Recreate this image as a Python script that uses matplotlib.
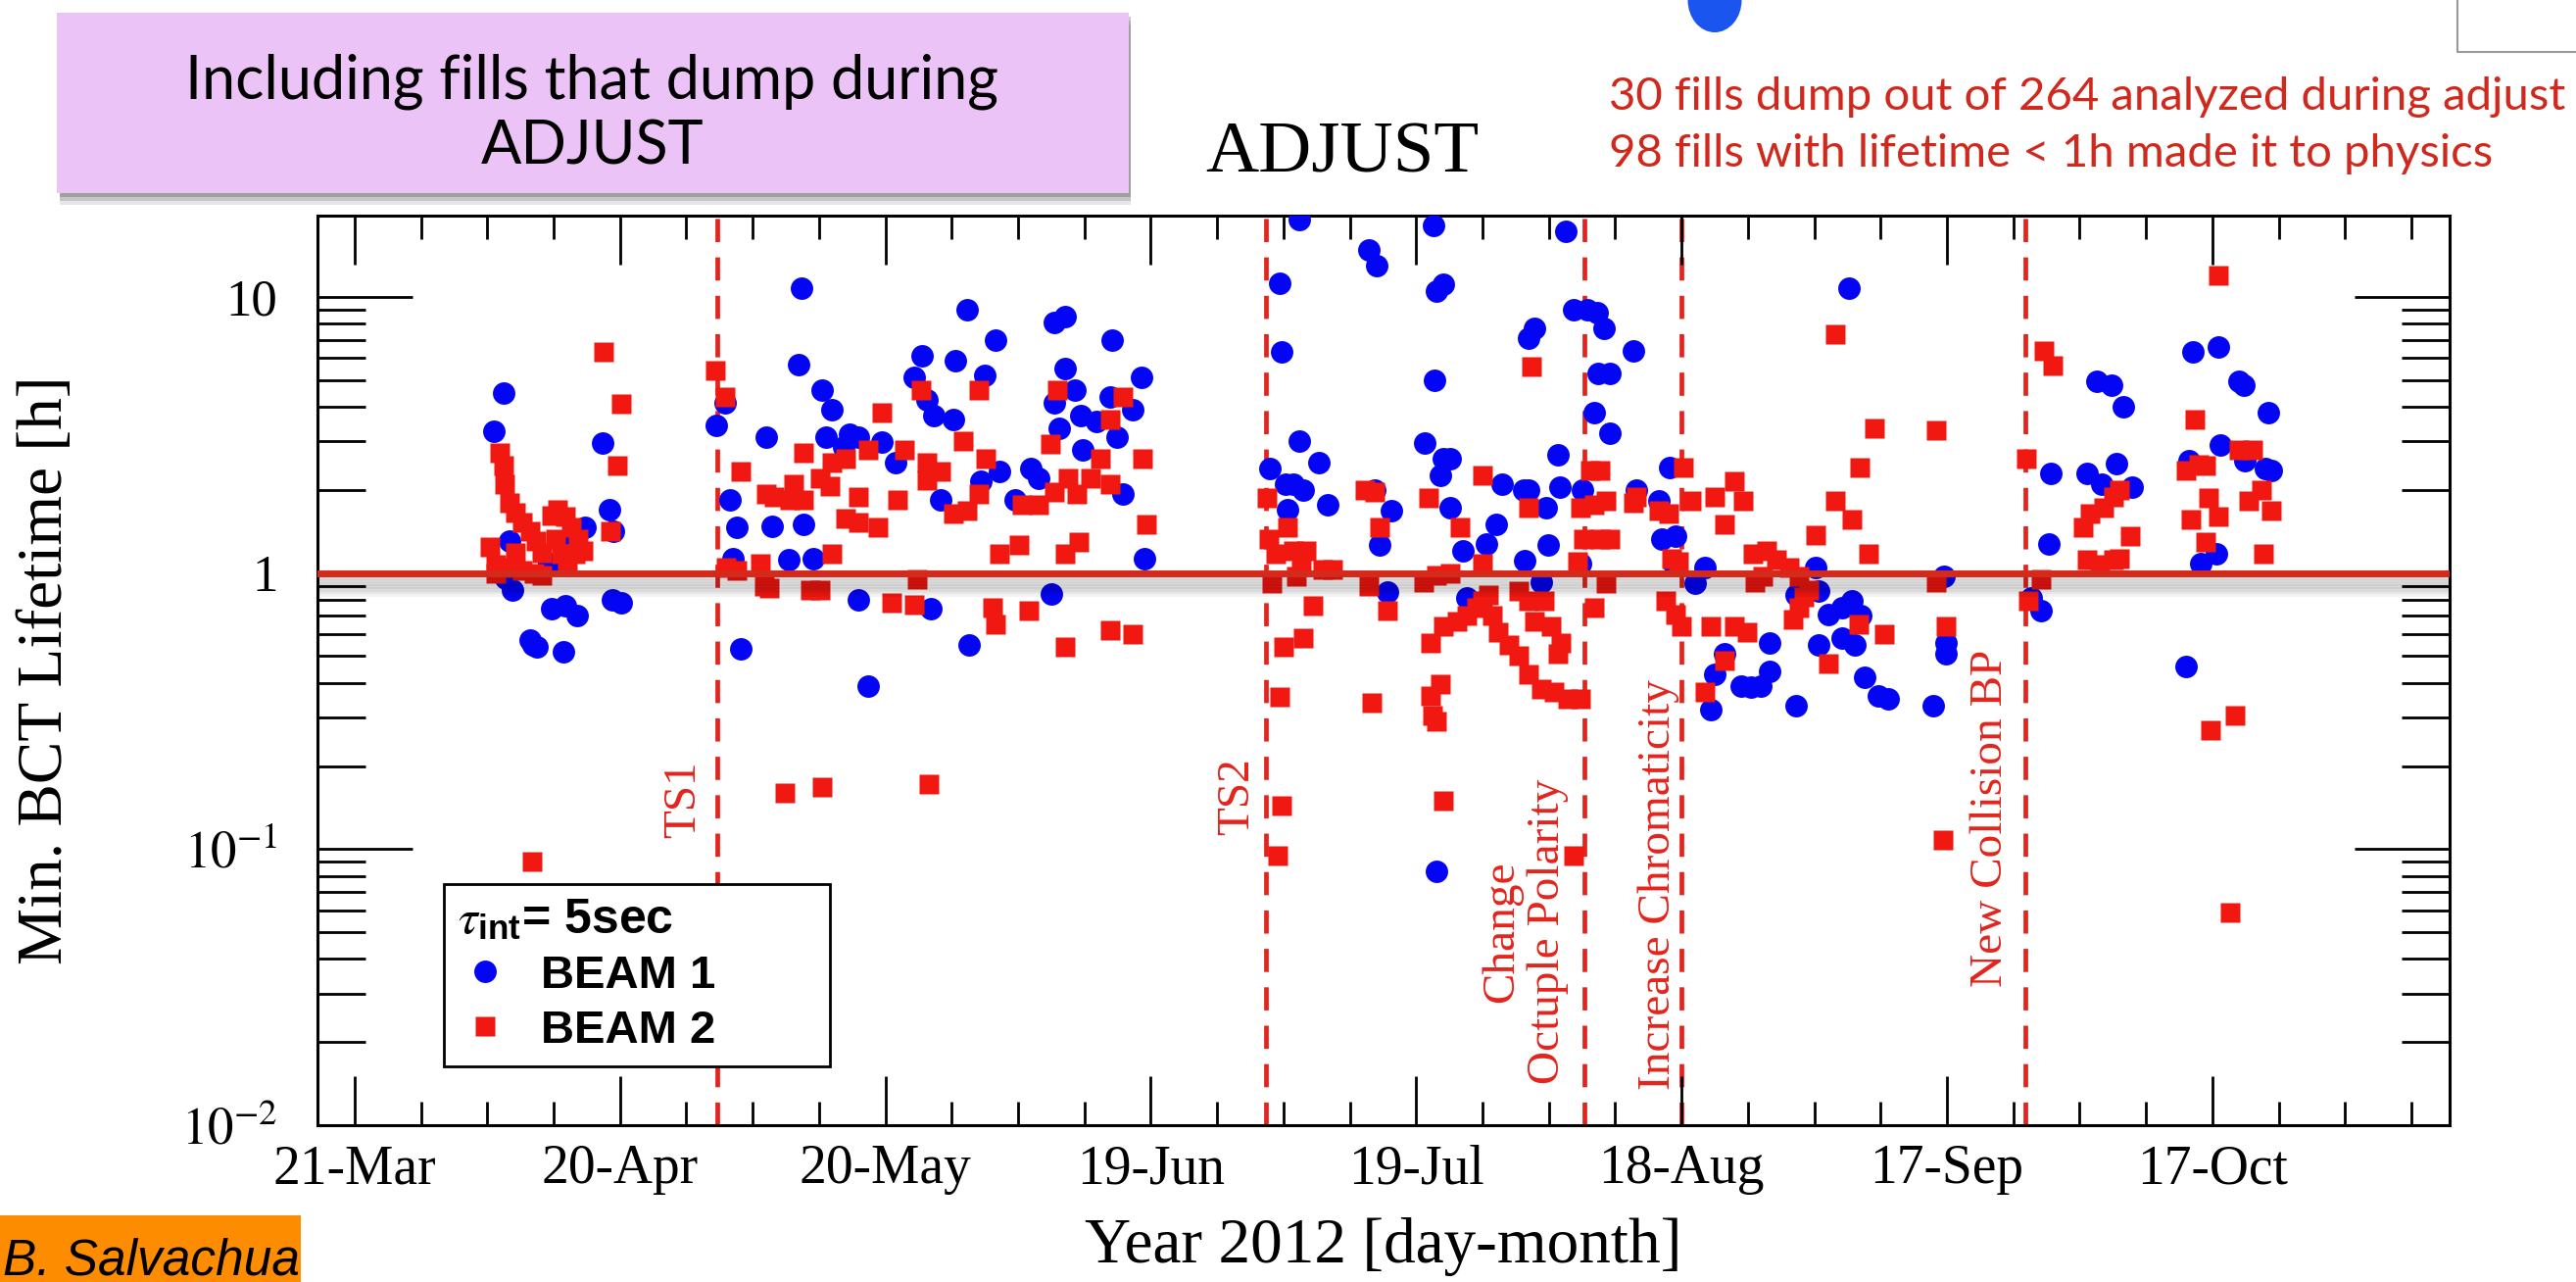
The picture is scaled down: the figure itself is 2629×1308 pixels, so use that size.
import numpy as np
import matplotlib
matplotlib.use("Agg")
import matplotlib.pyplot as plt
import matplotlib.patheffects as pe
import matplotlib.transforms as mtransforms
from matplotlib.patches import Rectangle, Ellipse
from matplotlib.lines import Line2D
from matplotlib.ticker import FixedLocator, FixedFormatter, LogLocator, NullFormatter

plt.rcParams['font.family'] = 'Liberation Serif'
plt.rcParams['mathtext.fontset'] = 'stix'

# day of year 2012 (1 = 1 Jan) and minimum BCT lifetime [h]
beam1_day = [97.8, 96.7, 98.5, 98.1, 98.9, 100.9, 101.6, 101.2, 103.3, 104.8, 106.2, 104.6, 102.9, 105.1,
             107.0, 109.0, 109.8, 110.3, 110.1, 111.2, 121.9, 122.9, 123.4, 124.2, 123.8, 124.7, 127.5, 128.2,
             131.5, 131.2, 133.9, 135.0, 134.3, 136.9, 138.0, 136.3, 140.6, 142.2, 144.3, 145.2, 145.7, 146.5,
             148.7, 148.9, 150.2, 152.2, 153.5, 153.9, 151.8, 147.2, 131.7, 130.1, 132.8, 138.0, 146.1, 150.5,
             139.1, 157.4, 158.3, 155.7, 160.1, 161.3, 161.3, 162.4, 160.1, 160.7, 163.1, 164.9, 163.3, 166.6,
             166.4, 167.2, 169.0, 169.9, 167.9, 170.3, 159.8,
             187.8, 185.6, 185.8, 195.6, 196.5, 203.0, 203.3, 204.1, 203.1, 217.9, 187.8, 190.0, 184.5, 186.2,
             187.1, 188.2, 186.5, 191.0, 196.3, 198.2, 196.9, 197.8, 202.0, 204.1, 204.8, 203.7, 204.8, 206.3,
             208.9, 210.0, 210.7, 206.7, 213.7, 214.4, 217.0, 213.1, 213.7, 215.7, 217.3, 215.9, 213.3, 215.1,
             218.8, 220.3, 221.4, 222.2, 225.5, 221.6, 222.9, 221.1, 222.9, 219.6, 225.9, 203.3, 219.8,
             249.9, 229.7, 228.4, 228.8, 230.3, 230.1, 232.5, 233.6, 234.7, 235.8, 234.3, 237.7, 238.8, 239.9,
             241.0, 241.0, 243.9, 243.9, 246.5, 246.5, 247.6, 249.1, 250.2, 251.3, 249.1, 250.6, 251.7, 253.2,
             254.3, 246.2, 259.4, 260.7, 260.9, 260.9, 270.5, 271.6, 272.7, 272.5,
             277.9, 279.6, 280.9, 280.2, 276.8, 278.5, 281.9, 288.8, 291.7, 294.0, 294.6, 297.3, 291.9, 288.4,
             294.7, 297.0, 297.7, 291.4, 289.7, 288.0]
beam1_life = [4.5, 3.27, 1.31, 0.96, 0.865, 0.57, 0.54, 0.55, 0.74, 0.76, 0.70, 0.52, 1.08, 1.26,
              1.46, 2.95, 1.70, 1.42, 0.80, 0.78, 3.44, 4.13, 1.84, 1.46, 1.13, 0.53, 3.1, 1.48,
              10.8, 5.7, 4.6, 3.9, 3.1, 3.18, 3.1, 2.86, 2.99, 2.52, 5.1, 6.1, 4.24, 3.72,
              3.6, 5.9, 9.0, 5.2, 6.95, 2.33, 2.15, 1.84, 1.5, 1.12, 1.13, 0.80, 0.74, 0.55,
              0.39, 2.39, 2.21, 1.84, 8.1, 8.5, 5.5, 4.6, 4.13, 3.35, 3.72, 3.53, 2.79, 6.95,
              4.35, 3.1, 3.92, 5.1, 1.94, 1.13, 0.84,
              19.0, 11.2, 6.3, 14.8, 13.0, 18.2, 10.5, 11.1, 5.0, 17.3, 3.0, 2.52, 2.4, 2.1,
              2.1, 2.0, 1.7, 1.77, 2.0, 1.68, 1.26, 0.855, 2.96, 2.6, 2.6, 2.25, 1.73, 1.2,
              1.27, 1.5, 2.1, 0.81, 7.1, 7.7, 2.68, 2.0, 2.0, 1.73, 2.05, 1.26, 1.11, 0.93,
              9.0, 9.0, 8.8, 7.7, 6.4, 5.3, 5.3, 3.82, 3.2, 1.08, 2.0, 0.083, 2.0,
              10.8, 2.42, 1.82, 1.33, 1.36, 1.08, 0.92, 1.05, 0.43, 0.51, 0.32, 0.39, 0.385, 0.39,
              0.44, 0.56, 0.33, 0.83, 0.86, 0.55, 0.71, 0.75, 0.79, 0.70, 0.58, 0.55, 0.42, 0.36,
              0.35, 1.05, 0.33, 0.97, 0.56, 0.51, 0.81, 0.73, 2.3, 1.27,
              4.96, 4.8, 4.0, 2.5, 2.3, 2.1, 2.05, 6.3, 6.6, 4.95, 4.8, 3.8, 2.9, 2.55,
              2.55, 2.4, 2.35, 1.17, 1.08, 0.46]

beam2_day = [109.2, 111.2, 110.7, 109.9, 97.4, 97.8, 98.0, 98.5, 99.2, 100.0, 100.9, 101.5, 102.2, 96.3,
             97.0, 97.0, 98.1, 99.2, 100.0, 101.3, 102.2, 103.3, 104.0, 104.8, 105.5, 106.3, 106.8, 103.7,
             104.4, 105.1, 105.9, 101.1, 121.8, 122.9, 123.0, 124.2, 124.7, 126.9, 127.5, 128.4, 127.3, 127.9,
             131.7, 130.6, 131.7, 130.2, 133.6, 135.0, 136.5, 134.7, 136.5, 138.0, 138.0, 139.1, 140.6, 140.2,
             142.4, 143.2, 145.0, 145.7, 145.7, 147.2, 149.8, 148.7, 150.2, 151.6, 152.4, 151.6, 135.0, 132.5,
             133.6, 144.6, 141.7, 144.3, 153.1, 153.5, 157.2, 153.9, 156.1, 156.4, 158.3, 159.6, 160.4, 160.1,
             161.6, 162.7, 164.2, 165.3, 166.4, 167.9, 166.4, 161.3, 162.9, 161.3, 166.4, 169.0, 170.1, 170.5,
             129.6, 133.9, 145.9,
             184.1, 184.3, 185.1, 184.7, 186.5, 187.1, 188.0, 188.6, 187.5, 189.3, 190.4, 191.5, 186.0, 188.2,
             185.6, 185.8, 185.4, 195.2, 196.3, 196.9, 195.6, 197.8, 196.0, 202.4, 201.9, 203.3, 204.8, 205.9,
             202.6, 204.1, 205.6, 206.7, 207.8, 208.5, 209.2, 208.5, 209.6, 210.3, 211.5, 212.6, 213.7, 215.1,
             216.6, 218.1, 219.6, 202.6, 202.8, 203.3, 203.7, 204.1, 208.5, 214.0, 213.7, 212.6, 213.7, 214.4,
             215.5, 216.2, 217.0, 217.4, 218.8, 220.7, 221.8, 219.6, 221.1, 222.5, 219.9, 221.8, 222.9, 219.2,
             222.5, 221.1, 225.9, 225.5,
             231.2, 232.1, 228.4, 229.5, 229.9, 230.7, 234.7, 237.0, 238.0, 235.8, 239.1, 240.6, 241.7, 239.3,
             240.2, 229.2, 230.3, 231.0, 233.6, 234.3, 235.8, 237.0, 238.4, 243.2, 244.3, 245.4, 244.3, 243.6,
             244.8, 246.2, 247.6, 248.4, 248.4, 250.2, 251.1, 252.1, 252.8, 251.0, 253.9, 259.8, 259.8, 260.9,
             260.6, 270.0, 270.2, 271.6, 272.0, 272.9,
             291.7, 289.0, 288.0, 289.5, 290.2, 288.6, 290.6, 291.7, 290.2, 294.0, 295.5, 295.1, 296.6, 297.7,
             296.8, 276.4, 277.2, 278.7, 279.8, 280.5, 281.7, 276.8, 278.3, 279.8, 280.5, 290.8, 293.6, 293.0]
beam2_life = [6.3, 4.1, 2.45, 1.42, 2.72, 2.45, 2.1, 1.8, 1.66, 1.53, 1.42, 1.31, 1.18, 1.24,
              1.07, 1.0, 1.05, 1.18, 1.02, 1.0, 0.98, 1.61, 1.70, 1.6, 1.46, 1.33, 1.2, 1.33,
              1.17, 1.1, 1.17, 0.09, 5.4, 4.35, 1.05, 1.02, 2.33, 1.08, 1.94, 1.89, 0.9, 0.88,
              2.72, 2.1, 1.84, 1.84, 2.2, 2.52, 2.6, 2.07, 1.57, 1.89, 1.52, 2.79, 3.82, 1.46,
              1.84, 2.79, 4.58, 2.52, 2.17, 2.33, 3.0, 1.64, 1.68, 4.58, 2.6, 1.94, 1.17, 0.865,
              0.865, 0.95, 0.78, 0.77, 0.75, 0.65, 0.73, 1.17, 1.26, 1.77, 1.77, 2.93, 4.58, 1.96,
              2.2, 1.94, 2.2, 2.6, 3.6, 4.35, 2.1, 1.17, 1.3, 0.54, 0.62, 0.6, 2.6, 1.5,
              0.16, 0.168, 0.172,
              1.87, 1.33, 1.17, 0.92, 1.46, 1.2, 1.1, 1.2, 0.97, 0.76, 1.03, 1.03, 0.54, 0.58,
              0.357, 0.144, 0.095, 2.0, 1.97, 1.46, 0.9, 0.73, 0.34, 1.87, 0.93, 0.98, 1.0, 1.46,
              0.556, 0.64, 0.667, 0.7, 0.75, 0.79, 0.83, 1.08, 0.7, 0.61, 0.55, 0.5, 0.43, 0.38,
              0.37, 0.35, 0.35, 0.36, 0.305, 0.29, 0.396, 0.15, 2.25, 5.6, 1.73, 0.86, 0.79, 0.67,
              0.79, 0.64, 0.51, 0.56, 0.095, 2.36, 2.36, 1.73, 1.76, 1.82, 1.33, 1.33, 1.33, 1.1,
              0.92, 0.75, 1.89, 1.8,
              2.42, 1.82, 1.68, 1.64, 1.13, 1.1, 1.89, 2.15, 1.82, 1.5, 1.17, 1.2, 1.12, 0.93,
              0.97, 0.79, 0.71, 0.64, 0.37, 0.64, 0.48, 0.64, 0.61, 1.05, 0.97, 0.87, 0.75, 0.68,
              0.82, 1.37, 0.47, 7.3, 1.82, 1.56, 2.42, 1.17, 3.35, 0.65, 0.6, 3.3, 0.93, 0.64,
              0.108, 2.6, 0.79, 0.95, 6.4, 5.65,
              12.0, 3.6, 2.36, 2.48, 2.45, 1.56, 1.87, 1.6, 1.3, 2.8, 2.8, 1.82, 2.0, 1.68,
              1.17, 1.46, 1.64, 1.73, 1.89, 2.0, 1.36, 1.12, 1.07, 1.12, 1.13, 0.27, 0.305, 0.059]

xtick_days = [81, 111, 141, 171, 201, 231, 261, 291]
xtick_labels = ['21-Mar', '20-Apr', '20-May', '19-Jun', '19-Jul', '18-Aug', '17-Sep', '17-Oct']
ytick_vals = [0.01, 0.1, 1, 10]
ytick_labels = [r'$10^{-2}$', r'$10^{-1}$', '1', '10']

event_days = [122.0, 184.0, 220.0, 231.0, 269.9]
event_labels = ['TS1', 'TS2', 'Change\nOctuple Polarity', 'Increase Chromaticity', 'New Collision BP']
event_label_days = [118.2, 180.8, 213.3, 228.4, 265.9]
event_label_y = [0.358, 0.361, 0.213, 0.264, 0.337]

lifetime_limit = 1.0

blue = '#0505f5'
red = '#f01810'
line_red = '#e3241c'

fig = plt.figure(figsize=(26.29, 13.08), dpi=100)
ax = fig.add_axes([0.1232, 0.1223, 0.8277, 0.7095])

for d in event_days:
    ax.axvline(d, color=line_red, lw=3.4, ls=(0, (5, 3.3)), zorder=1)

trans = mtransforms.blended_transform_factory(ax.transData, ax.transAxes)
for d, yy, lab in zip(event_label_days, event_label_y, event_labels):
    ax.text(d, yy, lab, transform=trans, rotation=90, ha='center', va='center',
            multialignment='center', color=line_red, fontsize=34, linespacing=1.15, zorder=2)

b1, = ax.plot(beam1_day, beam1_life, 'o', color=blue, ms=16.5, mec='none', label='BEAM 1', zorder=3)
b2, = ax.plot(beam2_day, beam2_life, 's', color=red, ms=15, mec='none', label='BEAM 2', zorder=3)

# threshold line with a soft drop shadow like on the slide
shadow = [pe.SimpleLineShadow(offset=(0, -k), shadow_color='black', alpha=0.05, linewidth=7)
          for k in (2, 4, 6, 8, 10, 12, 14)]
ax.axhline(lifetime_limit, color='#d42a1c', lw=5, zorder=6, path_effects=shadow + [pe.Normal()])

ax.set_yscale('log')
ax.set_ylim(0.01, 19.7)
ax.set_xlim(76.8, 317.8)

ax.yaxis.set_major_locator(FixedLocator(ytick_vals))
ax.yaxis.set_major_formatter(FixedFormatter(ytick_labels))
ax.yaxis.set_minor_locator(LogLocator(base=10, subs=np.arange(2, 10)))
ax.yaxis.set_minor_formatter(NullFormatter())
ax.xaxis.set_major_locator(FixedLocator(xtick_days))
ax.xaxis.set_major_formatter(FixedFormatter(xtick_labels))
ax.xaxis.set_minor_locator(FixedLocator(np.arange(xtick_days[0] - 7.5, 330, 7.5)))

ax.tick_params(which='both', direction='in', top=True, right=True, width=2, color='black')
ax.tick_params(axis='y', which='major', length=70, pad=29, labelsize=38)
ax.tick_params(axis='y', which='minor', length=35)
ax.tick_params(axis='x', which='major', length=36, pad=14, labelsize=40)
ax.tick_params(axis='x', which='minor', length=17)
for s in ax.spines.values():
    s.set_linewidth(2.2)

ax.set_xlabel('Year 2012 [day-month]', fontsize=47, labelpad=16)
ax.set_ylabel('Min. BCT Lifetime [h]', fontsize=47)
ax.yaxis.set_label_coords(-0.1135, 0.5)

leg = ax.legend(handles=[b1, b2], loc='lower left', bbox_to_anchor=(0.0593, 0.0647, 0.181, 0.2),
                mode='expand', borderaxespad=0, title=r'$\tau_{\mathregular{int}}$= 5sec',
                title_fontproperties={'family': 'Liberation Sans', 'weight': 'bold', 'size': 36},
                prop={'family': 'Liberation Sans', 'weight': 'bold', 'size': 34},
                frameon=True, fancybox=False, edgecolor='black', framealpha=1,
                borderpad=0.3, handlelength=1.2, handletextpad=0.6, labelspacing=0.25,
                alignment='left', numpoints=1)
leg.get_frame().set_linewidth(2)
leg.set_zorder(7)

# slide decorations around the plot
for k, a in zip([12, 8, 4], [0.12, 0.18, 0.25]):
    fig.patches.append(Rectangle((0.0221 + 0.001, 0.8494 - k / 1308), 0.416, 0.1407,
                                 transform=fig.transFigure, facecolor='0.2', edgecolor='none', alpha=a))
fig.patches.append(Rectangle((0.0221, 0.8494), 0.416, 0.1407, transform=fig.transFigure,
                             facecolor='#ecc3f6', edgecolor='none'))
fig.text(0.2299, 0.9235, 'Including fills that dump during', ha='center', va='baseline',
         fontsize=44, family='Lato')
fig.text(0.2299, 0.8723, 'ADJUST', ha='center', va='baseline', fontsize=44, family='Lato')

fig.text(0.5211, 0.8662, 'ADJUST', ha='center', va='baseline', fontsize=54)

fig.text(0.6246, 0.9144, '30 fills dump out of 264 analyzed during adjust', ha='left', va='baseline',
         fontsize=34, family='Lato', color='#d0281c')
fig.text(0.6246, 0.870, '98 fills with lifetime < 1h made it to physics', ha='left', va='baseline',
         fontsize=34, family='Lato', color='#d0281c')

fig.patches.append(Rectangle((0, 0), 0.1168, 0.052, transform=fig.transFigure,
                             facecolor='#fd8c00', edgecolor='none'))
fig.text(0.001, 0.006, 'B. Salvachua', ha='left', va='baseline', fontsize=37,
         family='Liberation Sans', style='italic')

fig.patches.append(Ellipse((1750 / 2629, 1.0), 55 / 2629, 66 / 1308, transform=fig.transFigure,
                           facecolor='#1a55f0', edgecolor='none'))
fig.lines.append(Line2D([2508 / 2629, 2508 / 2629, 1.0], [1.0, 1 - 53 / 1308, 1 - 53 / 1308],
                        transform=fig.transFigure, color='0.6', lw=1.5))

fig.savefig('out.png', dpi=100)
